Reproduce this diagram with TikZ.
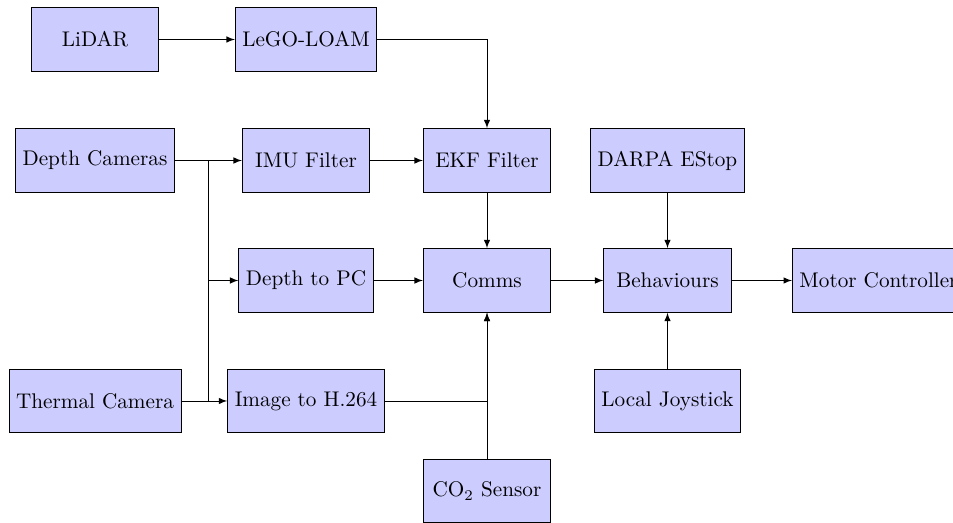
\documentclass[tikz,border=0pt]{standalone}
\usetikzlibrary{calc}
\begin{document}
\begin{tikzpicture}[x=0.4717pt,y=-0.4717pt,>=latex,
  block/.style={draw, fill=blue!20, minimum width=6em, minimum height=3em},
  conn/.style={->}]
\useasboundingbox (0,0) rectangle (953,523);
\node[block] (lidar) at (95,39.5) {LiDAR};
\node[block] (lego) at (306,39.5) {LeGO-LOAM};
\node[block] (dc) at (95,160.5) {Depth Cameras};
\node[block] (imu) at (306,160.5) {IMU Filter};
\node[block] (ekf) at (487,160.5) {EKF Filter};
\node[block] (estop) at (667.5,160.5) {DARPA EStop};
\node[block] (dpc) at (306,280.5) {Depth to PC};
\node[block] (comms) at (487,280.5) {Comms};
\node[block] (beh) at (667.5,280.5) {Behaviours};
\node[block, anchor=west] (motor) at (792,280.5) {Motor Controller};
\node[block] (therm) at (95,401) {Thermal Camera};
\node[block] (h264) at (306,401) {Image to H.264};
\node[block] (joy) at (667.5,401) {Local Joystick};
\node[block] (co2) at (487,491) {CO$_2$ Sensor};
\coordinate (j1) at (208,160.5);
\coordinate (j2) at (j1 |- therm.east);
\draw[conn] (lidar) -- (lego);
\draw[conn] (lego.east) -| (ekf.north);
\draw[conn] (dc.east) -- (imu.west);
\draw (j1) -- (j2);
\draw[conn] (j1 |- dpc.west) -- (dpc.west);
\draw[conn] (therm.east) -- (h264.west);
\draw[conn] (imu) -- (ekf);
\draw[conn] (ekf) -- (comms);
\draw[conn] (dpc) -- (comms);
\draw[conn] (h264.east) -| (comms.south);
\draw[conn] (co2) -- (comms);
\draw[conn] (comms) -- (beh);
\draw[conn] (estop) -- (beh);
\draw[conn] (joy) -- (beh);
\draw[conn] (beh) -- (motor);
\end{tikzpicture}
\end{document}
